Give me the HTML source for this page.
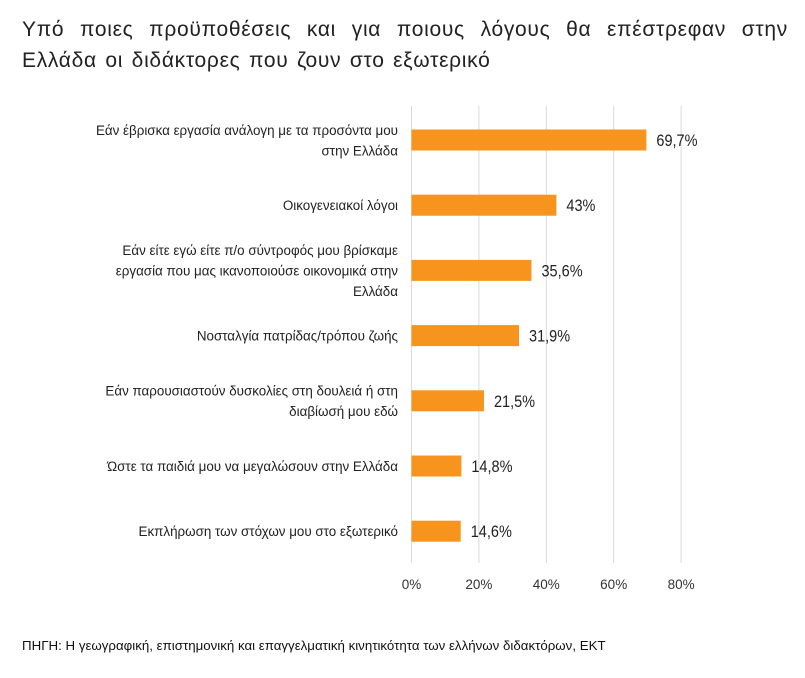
<!DOCTYPE html>
<html><head><meta charset="utf-8">
<style>
body{margin:0;background:#fff;font-family:"Liberation Sans","DejaVu Sans",sans-serif;}
#wrap{position:relative;width:805px;height:678px;overflow:hidden;}
.title{position:absolute;left:22px;top:14px;width:766px;font-size:21px;line-height:31px;color:#222;letter-spacing:0.7px;}
.title .l1{display:block;text-align:justify;text-align-last:justify;}
.src{position:absolute;left:22px;top:638px;font-size:13.3px;color:#111;white-space:nowrap;}
</style></head><body>
<div id="wrap">
<div class="title"><span class="l1">Υπό ποιες προϋποθέσεις και για ποιους λόγους θα επέστρεφαν στην</span><span style="word-spacing:2px">Ελλάδα οι διδάκτορες που ζουν στο εξωτερικό</span></div>
<svg id="chart" width="805" height="678" style="position:absolute;left:0;top:0"></svg>
<div class="src">ΠΗΓΗ: Η γεωγραφική, επιστημονική και επαγγελματική κινητικότητα των ελλήνων διδακτόρων, ΕΚΤ</div>
</div>
<script>
const categories=[
["Εάν έβρισκα εργασία ανάλογη με τα προσόντα μου","στην Ελλάδα"],
["Οικογενειακοί λόγοι"],
["Εάν είτε εγώ είτε π/ο σύντροφός μου βρίσκαμε","εργασία που μας ικανοποιούσε οικονομικά στην","Ελλάδα"],
["Νοσταλγία πατρίδας/τρόπου ζωής"],
["Εάν παρουσιαστούν δυσκολίες στη δουλειά  ή στη","διαβίωσή μου εδώ"],
["Ώστε τα παιδιά μου να μεγαλώσουν στην Ελλάδα"],
["Εκπλήρωση των στόχων μου στο εξωτερικό"]];
const values=[69.7,43,35.6,31.9,21.5,14.8,14.6];
const valueLabels=["69,7%","43%","35,6%","31,9%","21,5%","14,8%","14,6%"];
const ticks=[0,20,40,60,80];
const tickLabels=["0%","20%","40%","60%","80%"];
const NS="http://www.w3.org/2000/svg";
const svg=document.getElementById('chart');
const x0=411.5,xs=67.4/20;
const X=v=>x0+v*xs;
const Y=i=>140+i*65.2;
function mk(t,a){const e=document.createElementNS(NS,t);for(const k in a)e.setAttribute(k,a[k]);svg.appendChild(e);return e;}
ticks.forEach((t,i)=>{
 const g=mk('line',{x1:X(t),x2:X(t),y1:106,y2:563,stroke:'#d9d9d9','stroke-width':1});
 
 
 const tl=mk('text',{x:X(t),y:589,'text-anchor':'middle','font-size':13.5,fill:'#333'});
 tl.textContent=tickLabels[i];
 
 
});
values.forEach((v,i)=>{
 const r=mk('rect',{x:X(0),y:Y(i)-10.5,width:X(v)-X(0),height:21,fill:'#f7941d'});
 
 
 const t=mk('text',{x:X(v)+10,y:Y(i)+6,'font-size':16.5,fill:'#222',transform:`translate(${X(v)+10},0) scale(0.88,1) translate(${-(X(v)+10)},0)`});
 t.textContent=valueLabels[i];
 
 
 const lines=categories[i];
 const lh=20.5, top=Y(i)-(lines.length-1)*lh/2+5;
 lines.forEach((ln,j)=>{
  const c=mk('text',{x:398,y:top+j*lh,'text-anchor':'end','font-size':13.4,fill:'#222'});
  c.textContent=ln;
  
  
 });
});
</script>
</body></html>
